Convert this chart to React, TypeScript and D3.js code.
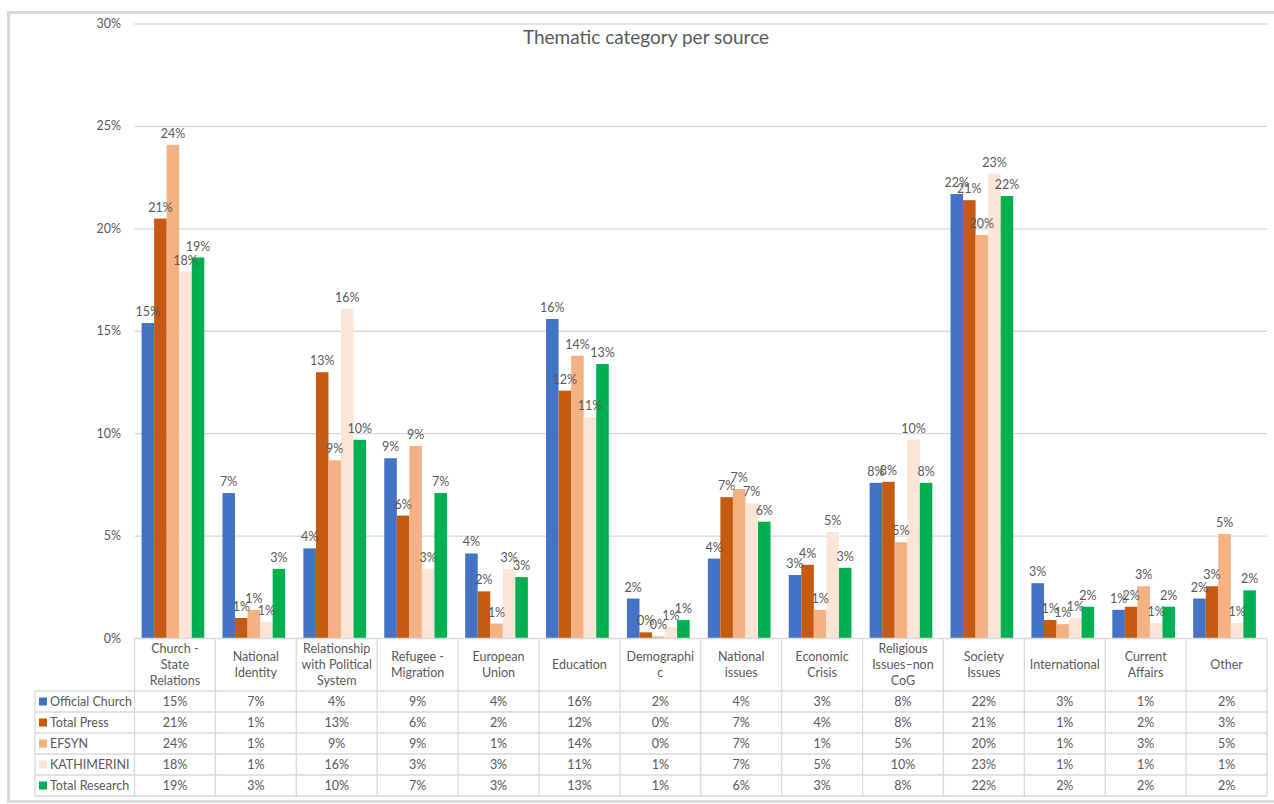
import * as d3 from 'd3';
import { useEffect, useRef } from 'react';

const categories = [
  ['Church -', 'State', 'Relations'],
  ['National', 'Identity'],
  ['Relationship', 'with Political', 'System'],
  ['Refugee -', 'Migration'],
  ['European', 'Union'],
  ['Education'],
  ['Demographi', 'c'],
  ['National', 'issues'],
  ['Economic', 'Crisis'],
  ['Religious', 'Issues–non', 'CoG'],
  ['Society', 'Issues'],
  ['International'],
  ['Current', 'Affairs'],
  ['Other'],
];

const seriesNames = ['Official Church', 'Total Press', 'EFSYN', 'KATHIMERINI', 'Total Research'];
const seriesColors = ['#4472C4', '#C55A11', '#F4B183', '#FBE5D6', '#00B050'];

// values in percent
const officialChurch = [15.4, 7.1, 4.4, 8.8, 4.15, 15.6, 1.95, 3.9, 3.1, 7.6, 21.7, 2.7, 1.4, 1.95];
const totalPress = [20.5, 1.0, 13.0, 6.0, 2.3, 12.1, 0.3, 6.9, 3.6, 7.65, 21.4, 0.9, 1.55, 2.55];
const efsyn = [24.1, 1.4, 8.7, 9.4, 0.73, 13.8, 0.1, 7.3, 1.4, 4.7, 19.7, 0.7, 2.55, 5.1];
const kathimerini = [17.9, 0.8, 16.1, 3.4, 3.4, 10.8, 0.55, 6.6, 5.2, 9.7, 22.7, 1.0, 0.75, 0.75];
const totalResearch = [18.6, 3.4, 9.7, 7.1, 3.0, 13.4, 0.9, 5.7, 3.45, 7.6, 21.6, 1.55, 1.55, 2.35];

const yTicks = [0, 5, 10, 15, 20, 25, 30];

const FONT = 'Lato, "Open Sans", sans-serif';
const GRAY = '#595959';
const LINE = '#D9D9D9';
const FS = '12.5px';

const App = () => {
  const svgRef = useRef<SVGSVGElement>(null);

  useEffect(() => {
    if (!svgRef.current) return;
    const svg = d3.select(svgRef.current);
    svg.selectAll('*').remove();

    const series = [officialChurch, totalPress, efsyn, kathimerini, totalResearch];
    const left = 134.5;
    const right = 1267;
    const top = 24;
    const base = 638.5;

    // outer border
    svg
      .append('rect')
      .attr('x', 8.5)
      .attr('y', 12.5)
      .attr('width', 1280)
      .attr('height', 789)
      .attr('fill', '#fff')
      .attr('stroke', LINE)
      .attr('stroke-width', 3);

    svg
      .append('text')
      .attr('x', 646)
      .attr('y', 44)
      .attr('text-anchor', 'middle')
      .attr('fill', GRAY)
      .attr('font-family', FONT)
      .attr('font-size', '19px')
      .text('Thematic category per source');

    const x0 = d3
      .scaleBand<number>()
      .domain(d3.range(categories.length))
      .range([left, right]);
    const gap = x0.bandwidth() * 0.225;
    const x1 = d3
      .scaleBand<number>()
      .domain(d3.range(seriesNames.length))
      .range([gap / 2 - 2, x0.bandwidth() - gap / 2 - 2]);
    const y = d3.scaleLinear().domain([0, 30]).range([base, top]);

    // gridlines + y labels
    const g = svg.append('g');
    g.selectAll('.grid')
      .data(yTicks.filter((t) => t > 0))
      .join('line')
      .attr('x1', left)
      .attr('x2', right)
      .attr('y1', (d) => y(d))
      .attr('y2', (d) => y(d))
      .attr('stroke', LINE)
      .attr('stroke-width', 1.3);
    g.selectAll('.ylab')
      .data(yTicks)
      .join('text')
      .attr('x', 121)
      .attr('y', (d) => y(d) + 4)
      .attr('text-anchor', 'end')
      .attr('fill', GRAY)
      .attr('font-family', FONT)
      .attr('font-size', FS)
      .text((d) => `${d}%`);

    // bars
    series.forEach((vals, si) => {
      svg
        .append('g')
        .selectAll('rect')
        .data(vals)
        .join('rect')
        .attr('x', (_, i) => (x0(i) || 0) + (x1(si) || 0))
        .attr('width', x1.bandwidth())
        .attr('y', (d) => y(d))
        .attr('height', (d) => base - y(d))
        .attr('fill', seriesColors[si]);
    });
    series.forEach((vals, si) => {
      svg
        .append('g')
        .selectAll('text')
        .data(vals)
        .join('text')
        .attr('x', (_, i) => (x0(i) || 0) + (x1(si) || 0) + x1.bandwidth() / 2)
        .attr('y', (d) => y(d) - 7)
        .attr('text-anchor', 'middle')
        .attr('fill', GRAY)
        .attr('font-family', FONT)
        .attr('font-size', FS)
        .text((d) => `${Math.round(d)}%`);
    });

    // data table
    const headerBottom = 691;
    const rowH = 21;
    const tableLeft = 35;
    const t = svg.append('g');
    const rows = d3.range(seriesNames.length);
    const rowY = (r: number) => headerBottom + r * rowH;
    const tableBottom = rowY(seriesNames.length);

    t.append('line')
      .attr('x1', left)
      .attr('x2', right)
      .attr('y1', base)
      .attr('y2', base)
      .attr('stroke', LINE)
      .attr('stroke-width', 1.3);
    t.selectAll('.hl')
      .data(d3.range(seriesNames.length + 1))
      .join('line')
      .attr('x1', tableLeft)
      .attr('x2', right)
      .attr('y1', (r) => rowY(r))
      .attr('y2', (r) => rowY(r))
      .attr('stroke', LINE)
      .attr('stroke-width', 1.3);
    t.selectAll('.vl')
      .data(d3.range(categories.length + 1))
      .join('line')
      .attr('x1', (i) => (i < categories.length ? x0(i) || 0 : right))
      .attr('x2', (i) => (i < categories.length ? x0(i) || 0 : right))
      .attr('y1', base)
      .attr('y2', tableBottom)
      .attr('stroke', LINE)
      .attr('stroke-width', 1.3);
    t.append('line')
      .attr('x1', tableLeft)
      .attr('x2', tableLeft)
      .attr('y1', headerBottom)
      .attr('y2', tableBottom)
      .attr('stroke', LINE)
      .attr('stroke-width', 1.3);

    // header text
    categories.forEach((lines, i) => {
      const cx = (x0(i) || 0) + x0.bandwidth() / 2;
      const midY = (base + headerBottom) / 2;
      const lh = 16;
      const text = t
        .append('text')
        .attr('text-anchor', 'middle')
        .attr('fill', GRAY)
        .attr('font-family', FONT)
        .attr('font-size', FS);
      lines.forEach((ln, li) => {
        text
          .append('tspan')
          .attr('x', cx)
          .attr('y', midY + 4 + (li - (lines.length - 1) / 2) * lh)
          .text(ln);
      });
    });

    // legend cells + values
    rows.forEach((r) => {
      const cy = rowY(r) + rowH / 2;
      t.append('rect')
        .attr('x', 39)
        .attr('y', cy - 4)
        .attr('width', 8)
        .attr('height', 8)
        .attr('fill', seriesColors[r]);
      t.append('text')
        .attr('x', 50)
        .attr('y', cy + 4)
        .attr('fill', GRAY)
        .attr('font-family', FONT)
        .attr('font-size', FS)
        .text(seriesNames[r]);
      t.selectAll(null)
        .data(series[r])
        .join('text')
        .attr('x', (_, i) => (x0(i) || 0) + x0.bandwidth() / 2)
        .attr('y', cy + 4)
        .attr('text-anchor', 'middle')
        .attr('fill', GRAY)
        .attr('font-family', FONT)
        .attr('font-size', FS)
        .text((d) => `${Math.round(d)}%`);
    });
  }, []);

  return (
    <svg
      ref={svgRef}
      width={1274}
      height={804}
      style={{ position: 'absolute', left: 0, top: 0, background: '#fff' }}
    />
  );
};

export default App;
